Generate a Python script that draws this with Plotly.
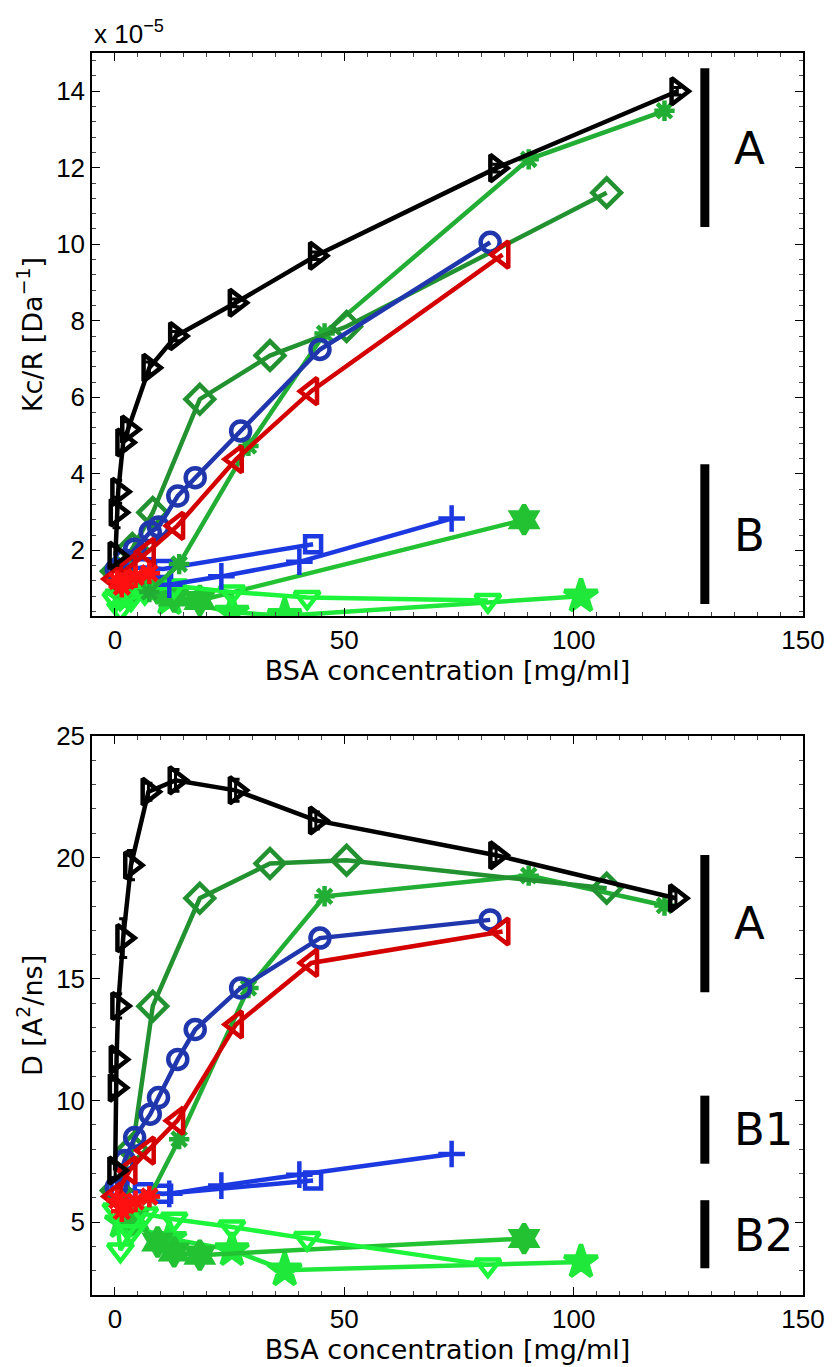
import plotly.graph_objects as go

# ---- data (Kc/R in units of 1e-5 Da^-1, D in A^2/ns, concentration in mg/ml) ----
black_x_kc = [0.1, 0.35, 0.7, 1.8, 2.85, 7.5, 13.3, 26.3, 43.8, 83.1, 122.6]
black_kc = [1.86, 2.99, 3.53, 4.82, 5.16, 6.77, 7.60, 8.47, 9.70, 11.99, 14.0]
black_kc_err = [0.25, 0.4, 0.3, 0.2, 0.2, 0.15, 0.12, 0.1, 0.1, 0.1, 0.1]
black_x_d = [0.05, 0.15, 0.35, 0.7, 1.8, 3.5, 7.3, 13.2, 26.3, 43.8, 83.1, 122.3]
black_d = [7.12, 10.53, 11.69, 13.89, 16.68, 19.68, 22.70, 23.17, 22.76, 21.52, 20.09, 18.32]
black_d_err = [0.3, 0.3, 0.3, 0.5, 0.8, 0.6, 0.35, 0.45, 0.45, 0.35, 0.3, 0.3]

diamond_x = [0.3, 3.8, 8.25, 18.5, 33.8, 50.5, 107.2]
diamond_kc = [1.45, 2.05, 2.99, 5.95, 7.09, 7.85, 11.35]
diamond_d = [6.3, 8.0, 13.88, 18.32, 19.75, 19.88, 18.73]

circle_x = [0.3, 2.1, 4.3, 7.7, 9.5, 13.7, 17.5, 27.4, 44.7, 81.8]
circle_kc = [1.5, 1.75, 2.03, 2.48, 2.61, 3.42, 3.90, 5.12, 7.25, 10.05]
circle_d = [6.43, 7.53, 8.48, 9.44, 10.12, 11.69, 12.92, 14.63, 16.68, 17.43]

tri_left_x = [0.0, 3.2, 7.2, 13.6, 26.4, 42.8, 84.5]
tri_left_kc = [1.25, 1.55, 1.96, 2.64, 4.38, 6.16, 9.73]
tri_left_d = [6.05, 7.13, 7.94, 9.17, 13.13, 15.66, 16.95]

red_star_x = [0.5, 1.5, 2.5, 4.5, 7.5]
red_star_kc = [1.2, 1.05, 1.2, 1.3, 1.4]
red_star_d = [5.9, 5.45, 5.7, 5.85, 6.05]

asterisk_x = [7.5, 14.0, 29.1, 45.7, 90.2, 119.8]
asterisk_kc = [0.91, 1.64, 4.73, 7.67, 12.22, 13.49]
asterisk_d = [6.02, 8.41, 14.63, 18.40, 19.25, 18.02]

plus_x = [11.85, 23.2, 40.2, 73.4]
plus_kc = [1.10, 1.32, 1.70, 2.83]
plus_d = [6.16, 6.50, 6.95, 7.80]

square_x = [1.0, 6.1, 10.5, 43.2]
square_kc = [1.45, 1.56, 1.51, 2.16]
square_d = [6.35, 6.23, 6.16, 6.71]

tri_down_x = [0.2, 1.2, 3.5, 6.5, 12.9, 25.5, 41.9, 81.3]
tri_down_kc = [0.72, 0.47, 0.73, 0.90, 1.07, 0.91, 0.77, 0.69]
tri_down_d = [5.5, 3.85, 4.6, 5.33, 5.12, 4.80, 4.32, 3.23]

hexa_x = [4.0, 9.3, 12.9, 18.5, 89.2]
hexa_kc = [1.0, 0.99, 0.78, 0.69, 2.80]
hexa_d = [5.1, 4.18, 3.77, 3.64, 4.32]

penta_x = [1.5, 11.9, 25.5, 37.0, 101.6]
penta_kc = [0.8, 0.73, 0.38, 0.29, 0.80]
penta_d = [5.0, 4.32, 3.85, 3.02, 3.36]

x_ticks = [0, 50, 100, 150]

# ---- styling: (x, Kc/R, D, colour, marker symbol, marker size) ----
series = [
    (penta_x, penta_kc, penta_d, "#1fe83a", "star", 25),
    (hexa_x, hexa_kc, hexa_d, "#22c232", "hexagram", 22),
    (tri_down_x, tri_down_kc, tri_down_d, "#1cf53a", "triangle-down-open", 22),
    (plus_x, plus_kc, plus_d, "#1c38e0", "cross-thin-open", 19),
    (square_x, square_kc, square_d, "#1c38e0", "square-open", 16),
    (asterisk_x, asterisk_kc, asterisk_d, "#22ad34", "asterisk-open", 17),
    (diamond_x, diamond_kc, diamond_d, "#22912f", "diamond-open", 22),
    (circle_x, circle_kc, circle_d, "#1f36ad", "circle-open", 19),
    (tri_left_x, tri_left_kc, tri_left_d, "#d40000", "triangle-left-open", 23),
    (red_star_x, red_star_kc, red_star_d, "#ff1010", "asterisk-open", 18),
]

fig = go.Figure()
LW = 4.5
MW = 4.5

for x, kc, d, col, sym, sz in series:
    mk = dict(symbol=sym, size=sz, color=col, line=dict(color=col, width=MW))
    fig.add_trace(go.Scatter(x=x, y=kc, mode="lines+markers", line=dict(color=col, width=LW),
                             marker=mk, xaxis="x", yaxis="y", showlegend=False))
    fig.add_trace(go.Scatter(x=x, y=d, mode="lines+markers", line=dict(color=col, width=LW),
                             marker=mk, xaxis="x2", yaxis="y2", showlegend=False))

bmk = dict(symbol="triangle-right-open", size=23, color="black", line=dict(color="black", width=MW))
fig.add_trace(go.Scatter(x=black_x_kc, y=black_kc, mode="lines+markers",
                         line=dict(color="black", width=LW), marker=bmk,
                         error_y=dict(type="data", array=black_kc_err, color="black", thickness=3, width=4),
                         xaxis="x", yaxis="y", showlegend=False))
fig.add_trace(go.Scatter(x=black_x_d, y=black_d, mode="lines+markers",
                         line=dict(color="black", width=LW), marker=bmk,
                         error_y=dict(type="data", array=black_d_err, color="black", thickness=3, width=4),
                         xaxis="x2", yaxis="y2", showlegend=False))

# ---- group markers on the right ----
groups_top = [(10.45, 14.6, "A", 12.5), (0.6, 4.25, "B", 2.4)]
groups_bot = [(14.45, 20.1, "A", 17.3), (7.4, 10.2, "B1", 8.8), (3.1, 5.9, "B2", 4.45)]
shapes = []
annotations = []
for ref, groups in (("", groups_top), ("2", groups_bot)):
    for y0, y1, lab, yc in groups:
        shapes.append(dict(type="line", xref="x" + ref, yref="y" + ref, x0=128.6, x1=128.6,
                           y0=y0, y1=y1, line=dict(color="black", width=9)))
        annotations.append(dict(xref="x" + ref, yref="y" + ref, x=134.5, y=yc, text=lab,
                                showarrow=False, xanchor="left", yanchor="middle",
                                font=dict(family="DejaVu Sans", size=45, color="black")))

annotations.append(dict(xref="paper", yref="paper", x=0, y=1, xanchor="left", yanchor="bottom",
                        yshift=2, showarrow=False, text="x 10<sup>\u22125</sup>",
                        font=dict(family="Liberation Sans", size=26, color="black")))

tickfont = dict(family="Liberation Sans", size=26, color="black")
titlefont = dict(family="DejaVu Sans", size=27, color="black")

common_x = dict(range=[-5, 150], tickmode="array", tickvals=x_ticks, ticks="inside", ticklen=8,
                tickwidth=1.2, tickcolor="black", showline=True, linecolor="black", linewidth=1.5,
                mirror="ticks", showgrid=False, zeroline=False, tickfont=tickfont,
                minor=dict(dtick=5, ticks="inside", ticklen=4, tickcolor="#444", tickwidth=1),
                title=dict(text="BSA concentration [mg/ml]", font=titlefont, standoff=2))
common_y = dict(ticks="inside", ticklen=8, tickwidth=1.2, tickcolor="black", showline=True,
                linecolor="black", linewidth=1.5, mirror="ticks", showgrid=False, zeroline=False,
                tickfont=tickfont)

fig.update_layout(
    width=837, height=1367,
    margin=dict(l=92, r=27, t=53, b=70),
    paper_bgcolor="white", plot_bgcolor="white",
    xaxis=dict(domain=[0, 1], anchor="y", **common_x),
    yaxis=dict(domain=[0.5466, 1], anchor="x", range=[0.28, 15], tick0=0, dtick=2,
               minor=dict(dtick=0.4, ticks="inside", ticklen=4, tickcolor="#444", tickwidth=1),
               title=dict(text="Kc/R [Da<sup>\u22121</sup>]", font=titlefont, standoff=6), **common_y),
    xaxis2=dict(domain=[0, 1], anchor="y2", **common_x),
    yaxis2=dict(domain=[0, 0.4502], anchor="x2", range=[2, 25], tick0=0, dtick=5,
                minor=dict(dtick=1, ticks="inside", ticklen=4, tickcolor="#444", tickwidth=1),
                title=dict(text="D [A<sup>2</sup>/ns]", font=titlefont, standoff=6), **common_y),
    shapes=shapes,
    annotations=annotations,
)

fig.write_html("out.html")
